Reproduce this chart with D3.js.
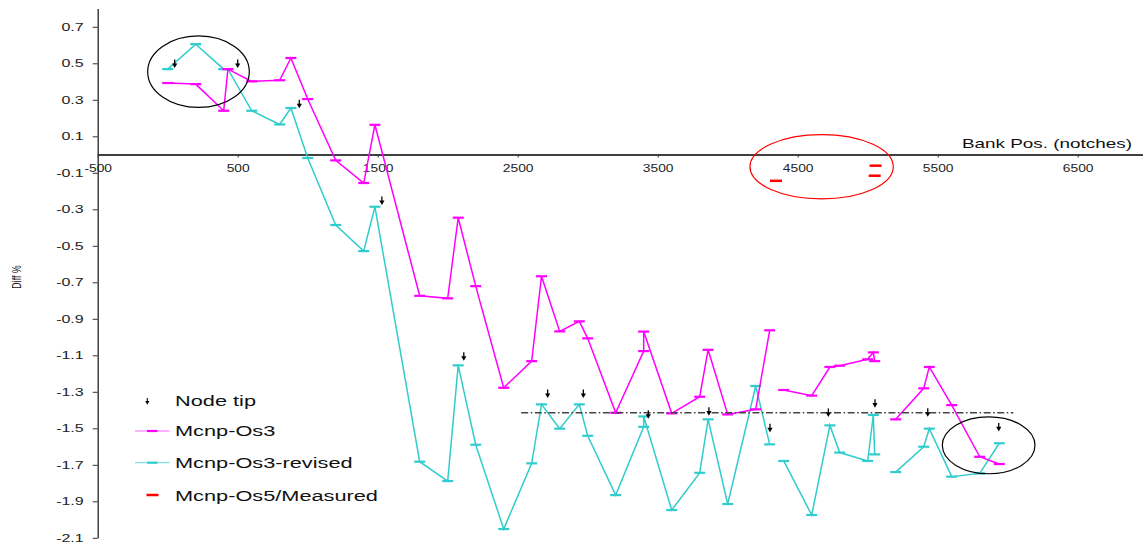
<!DOCTYPE html>
<html>
<head>
<meta charset="utf-8">
<script src="https://cdn.jsdelivr.net/npm/d3@7"></script>
<style>
  html, body { margin: 0; padding: 0; background: #fff; }
  svg { display: block; font-family: "Liberation Sans", Arial, sans-serif; }
</style>
</head>
<body>
<svg id="chart" width="1143" height="544"></svg>
<script>
// Bank position (notches) of each calculated point; 3400 carries two values.
const bankPos = [0, 200, 400, 430, 600, 800, 880, 1000, 1200, 1400, 1480, 1800, 2000, 2075, 2200,
  2400, 2600, 2670, 2800, 2940, 3000, 3200, 3400, 3400, 3600, 3800, 3860, 4000, 4200, 4300,
  4400, 4600, 4730, 4800, 5000, 5040, 5050,
  5200, 5400, 5440, 5600, 5800, 5940];

// Diff % for each code version
const os3 = [0.392, 0.386, 0.240, 0.468, 0.401, 0.407, 0.529, 0.304, -0.032, -0.156, 0.163, -0.774, -0.788, -0.346, -0.721,
  -1.278, -1.132, -0.667, -0.969, -0.914, -1.007, -1.415, -1.077, -0.970, -1.418, -1.327, -1.070, -1.424, -1.396, -0.963,
  -1.290, -1.321, -1.164, -1.157, -1.122, -1.084, -1.132,
  -1.451, -1.281, -1.164, -1.373, -1.656, -1.696];

const os3Revised = [0.468, 0.605, 0.468, 0.468, 0.240, 0.165, 0.255, -0.019, -0.386, -0.529, -0.286, -1.683, -1.789, -1.155, -1.590,
  -2.052, -1.692, -1.369, -1.502, -1.369, -1.541, -1.866, -1.492, -1.435, -1.948, -1.744, -1.451, -1.915, -1.268, -1.588,
  -1.679, -1.975, -1.484, -1.633, -1.679, -1.427, -1.643,
  -1.740, -1.601, -1.502, -1.765, -1.747, -1.582];

// Each run of the curve starts at one of these positions (the curves are broken between runs)
const segmentStarts = [0, 4400, 5200];

// Mcnp-Os5 / measured comparison points
const measuredPos = [4345, 5056, 5050];
const measuredDiff = [-0.144, -0.061, -0.116];

// Node tip markers
const tipPos = [50, 500, 940, 1530, 2115, 2714, 2969, 3433, 3866, 4302, 4719, 5052, 5429, 5936];
const tipDiff = [0.496, 0.496, 0.275, -0.255, -1.108, -1.312, -1.312, -1.426, -1.409, -1.500, -1.416, -1.365, -1.415, -1.495];

// Reference level (dash-dot)
const refLevel = -1.415;
const refFrom = 2525;
const refTo = 6040;

// Highlight ellipses: centre position, centre diff, half-width (notches), half-height (diff)
const ellipseCx = [220, 5864, 4671];
const ellipseCy = [0.454, -1.593, -0.067];
const ellipseRx = [363, 331, 512];
const ellipseRy = [0.196, 0.156, 0.176];
const ellipseColor = ["#000", "#000", "#ff0000"];

const xTicks = [-500, 500, 1500, 2500, 3500, 4500, 5500, 6500];
const yTicks = [0.7, 0.5, 0.3, 0.1, -0.1, -0.3, -0.5, -0.7, -0.9, -1.1, -1.3, -1.5, -1.7, -1.9, -2.1];

const legendLabels = ["Node tip", "Mcnp-Os3", "Mcnp-Os3-revised", "Mcnp-Os5/Measured"];
const magenta = "#ff00ff";
const cyan = "#33cccc";
const red = "#ff0000";

const svg = d3.select("#chart");

const x = d3.scaleLinear().domain([-500, 7000]).range([97.7, 1147.7]);
const y = d3.scaleLinear().domain([-2.1, 0.8]).range([537.8, 8.55]);

// ---- axes ----
const yAxis = svg.append("g")
  .attr("transform", `translate(${x(-500)},0)`)
  .call(d3.axisLeft(y).tickValues(yTicks).tickSize(5).tickSizeOuter(0).tickFormat(d => d.toFixed(1)));
yAxis.select(".domain").attr("stroke", "#333").attr("stroke-width", 1.4);
yAxis.selectAll(".tick line").attr("stroke", "#333").attr("stroke-width", 1);
yAxis.selectAll(".tick text")
  .attr("x", null).attr("dy", "0.34em")
  .attr("text-anchor", "end")
  .attr("transform", "translate(-14,0) scale(1.6,1)")
  .attr("font-size", 10).attr("fill", "#222")
  .attr("font-family", "Liberation Sans, Arial, sans-serif");

const xAxis = svg.append("g")
  .attr("transform", `translate(0,${y(0)})`)
  .call(d3.axisBottom(x).tickValues(xTicks).tickSize(3).tickSizeOuter(0).tickFormat(d => String(d)));
xAxis.select(".domain").attr("stroke", "#000").attr("stroke-width", 1.4);
xAxis.selectAll(".tick line").attr("stroke", "#333");
xAxis.selectAll(".tick text")
  .attr("y", null).attr("dy", null)
  .attr("transform", "translate(0,17) scale(1.38,1)")
  .attr("font-size", 10).attr("fill", "#222")
  .attr("font-family", "Liberation Sans, Arial, sans-serif");

svg.append("text")
  .attr("transform", "translate(1132,148) scale(1.4,1)")
  .attr("text-anchor", "end")
  .attr("font-size", 13.5).attr("fill", "#111")
  .text("Bank Pos. (notches)");

svg.append("text")
  .attr("transform", "translate(20.5,277) rotate(-90) scale(0.68,1)")
  .attr("text-anchor", "middle")
  .attr("font-size", 13).attr("fill", "#111")
  .text("Diff %");

// ---- series ----
const segOf = p => d3.bisectRight(segmentStarts, p) - 1;
function drawSeries(values, color) {
  const pts = bankPos.map((p, i) => ({ p, v: values[i], s: segOf(p) }));
  const line = d3.line().x(d => x(d.p)).y(d => y(d.v));
  const g = svg.append("g");
  d3.group(pts, d => d.s).forEach(run => {
    g.append("path").attr("d", line(run))
      .attr("fill", "none").attr("stroke", color).attr("stroke-width", 1.5)
      .attr("stroke-linejoin", "miter");
  });
  g.selectAll("line.mk").data(pts).join("line")
    .attr("class", "mk")
    .attr("x1", d => x(d.p) - 5.5).attr("x2", d => x(d.p) + 5.5)
    .attr("y1", d => y(d.v)).attr("y2", d => y(d.v))
    .attr("stroke", color).attr("stroke-width", 2.2);
}
drawSeries(os3Revised, cyan);
drawSeries(os3, magenta);

// measured comparison dashes
svg.append("g").selectAll("line").data(measuredPos).join("line")
  .attr("x1", (d) => x(d) - 6).attr("x2", (d) => x(d) + 6)
  .attr("y1", (d, i) => y(measuredDiff[i])).attr("y2", (d, i) => y(measuredDiff[i]))
  .attr("stroke", red).attr("stroke-width", 2.5);

// reference level
svg.append("line")
  .attr("x1", x(refFrom)).attr("x2", x(refTo))
  .attr("y1", y(refLevel)).attr("y2", y(refLevel))
  .attr("stroke", "#444").attr("stroke-width", 1.6)
  .attr("stroke-dasharray", "7,2.5,1.6,2.5");

// node tip arrows
function arrow(g, cx, cy, k) {
  const a = g.append("g").attr("transform", `translate(${cx},${cy}) scale(${k})`);
  a.append("line").attr("x1", 0).attr("x2", 0).attr("y1", -4.5).attr("y2", 0.5)
    .attr("stroke", "#000").attr("stroke-width", 1.3);
  a.append("path").attr("d", "M-2.6,-0.6 L2.6,-0.6 L0,4 Z").attr("fill", "#000");
}
const tips = svg.append("g");
tipPos.forEach((p, i) => arrow(tips, x(p), y(tipDiff[i]), 1));

// highlight ellipses
svg.append("g").selectAll("ellipse").data(ellipseCx).join("ellipse")
  .attr("cx", d => x(d))
  .attr("cy", (d, i) => y(ellipseCy[i]))
  .attr("rx", (d, i) => x(d + ellipseRx[i]) - x(d))
  .attr("ry", (d, i) => y(ellipseCy[i] - ellipseRy[i]) - y(ellipseCy[i]))
  .attr("fill", "none")
  .attr("stroke", (d, i) => ellipseColor[i])
  .attr("stroke-width", 1.2);

// ---- legend ----
const legend = svg.append("g");
const legendY = [401.5, 431, 462.7, 495];
const baseY = [405.5, 436, 467.5, 500.5];
legendLabels.forEach((label, i) => {
  legend.append("text")
    .attr("transform", `translate(175,${baseY[i]}) scale(1.45,1)`)
    .attr("font-size", 15).attr("fill", "#111")
    .text(label);
});
arrow(legend, 147.3, legendY[0], 0.8);
[[magenta, 1], [cyan, 2]].forEach(([c, i]) => {
  legend.append("line").attr("x1", 135).attr("x2", 169.5)
    .attr("y1", legendY[i]).attr("y2", legendY[i])
    .attr("stroke", c).attr("stroke-width", 1.2).attr("stroke-opacity", 0.6);
  legend.append("line").attr("x1", 147).attr("x2", 157.5)
    .attr("y1", legendY[i]).attr("y2", legendY[i])
    .attr("stroke", c).attr("stroke-width", 2.2);
});
legend.append("line").attr("x1", 146.5).attr("x2", 158.5)
  .attr("y1", legendY[3]).attr("y2", legendY[3])
  .attr("stroke", red).attr("stroke-width", 2.5);
</script>
</body>
</html>
